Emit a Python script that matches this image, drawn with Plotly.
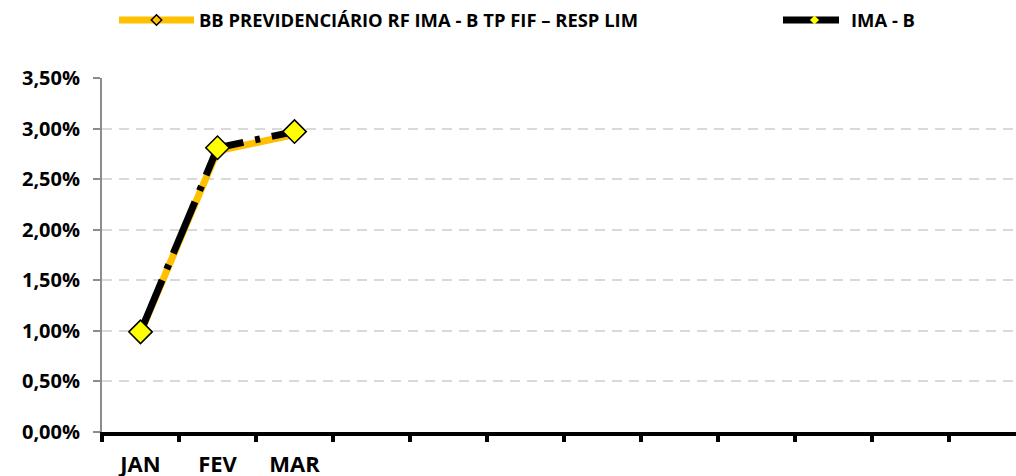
import plotly.graph_objects as go

months = ["JAN", "FEV", "MAR", "ABR", "MAI", "JUN", "JUL", "AGO", "SET", "OUT", "NOV", "DEZ"]
month_labels = ["JAN", "FEV", "MAR", "", "", "", "", "", "", "", "", ""]
x_data = ["JAN", "FEV", "MAR"]
bb_fund = [0.98, 2.78, 2.94]
ima_b = [0.99, 2.81, 2.97]
name_bb = "BB PREVIDENCIÁRIO RF IMA - B TP FIF – RESP LIM"
name_ima = "IMA - B"
y_ticks = [0, 0.5, 1.0, 1.5, 2.0, 2.5, 3.0, 3.5]
y_tick_labels = ["0,00%", "0,50%", "1,00%", "1,50%", "2,00%", "2,50%", "3,00%", "3,50%"]

FONT = "Open Sans"

fig = go.Figure()
fig.add_trace(go.Scatter(
    x=x_data, y=bb_fund, name=name_bb, mode="lines+markers",
    line=dict(color="#FFC000", width=7),
    marker=dict(symbol="diamond", size=8, color="#FFC000", line=dict(color="black", width=1.5)),
    legend="legend",
))
fig.add_trace(go.Scatter(
    x=x_data, y=ima_b, name=name_ima, mode="lines+markers",
    line=dict(color="black", width=7, dash="56px,12px,5px,12px"),
    marker=dict(symbol="diamond", size=7, color="#FFFF00", line=dict(color="#FFFF00", width=0)),
    legend="legend2",
))
fig.add_trace(go.Scatter(
    x=x_data, y=ima_b, mode="markers", showlegend=False,
    marker=dict(symbol="diamond", size=18, color="#FFFF00", line=dict(color="black", width=1.5)),
))

fig.update_layout(
    width=1016, height=476,
    margin=dict(l=102, r=0, t=78, b=44, autoexpand=False),
    plot_bgcolor="white", paper_bgcolor="white",
    font=dict(family=FONT, color="black"),
    legend=dict(
        orientation="h", xref="container", yref="container",
        x=114 / 1016, y=1 - 20 / 476, xanchor="left", yanchor="middle",
        font=dict(family=FONT, size=18.4, color="black", weight="bold"),
        itemwidth=75, bgcolor="rgba(0,0,0,0)",
    ),
    legend2=dict(
        orientation="h", xref="container", yref="container",
        x=778 / 1016, y=1 - 20 / 476, xanchor="left", yanchor="middle",
        font=dict(family=FONT, size=18.4, color="black", weight="bold"),
        itemwidth=63, bgcolor="rgba(0,0,0,0)",
    ),
    xaxis=dict(
        type="category", categoryorder="array", categoryarray=months,
        tickmode="array", tickvals=months, ticktext=month_labels,
        tickson="boundaries",
        range=[-0.5, -0.5 + 914 / 77],
        showgrid=False, zeroline=False, automargin=False,
        showline=True, linecolor="black", linewidth=4,
        ticks="outside", ticklen=6, tickwidth=4, tickcolor="black",
        tickfont=dict(family=FONT, size=22, color="black", weight="bold"),
        ticklabelstandoff=10,
    ),
    yaxis=dict(
        range=[0, 3.5], tickmode="array", tickvals=y_ticks, ticktext=y_tick_labels,
        showgrid=True, gridcolor="#D9D9D9", gridwidth=1.5, griddash="10px,7px",
        zeroline=False, automargin=False,
        showline=True, linecolor="#8C8C8C", linewidth=2,
        ticks="outside", ticklen=7, tickwidth=1.5, tickcolor="#8C8C8C",
        tickfont=dict(family=FONT, size=20, color="black", weight="bold"),
        ticklabelstandoff=9,
    ),
)

fig.write_html(
    "out.html",
    config={"displayModeBar": False},
    post_script="document.body.style.margin='0';",
)
